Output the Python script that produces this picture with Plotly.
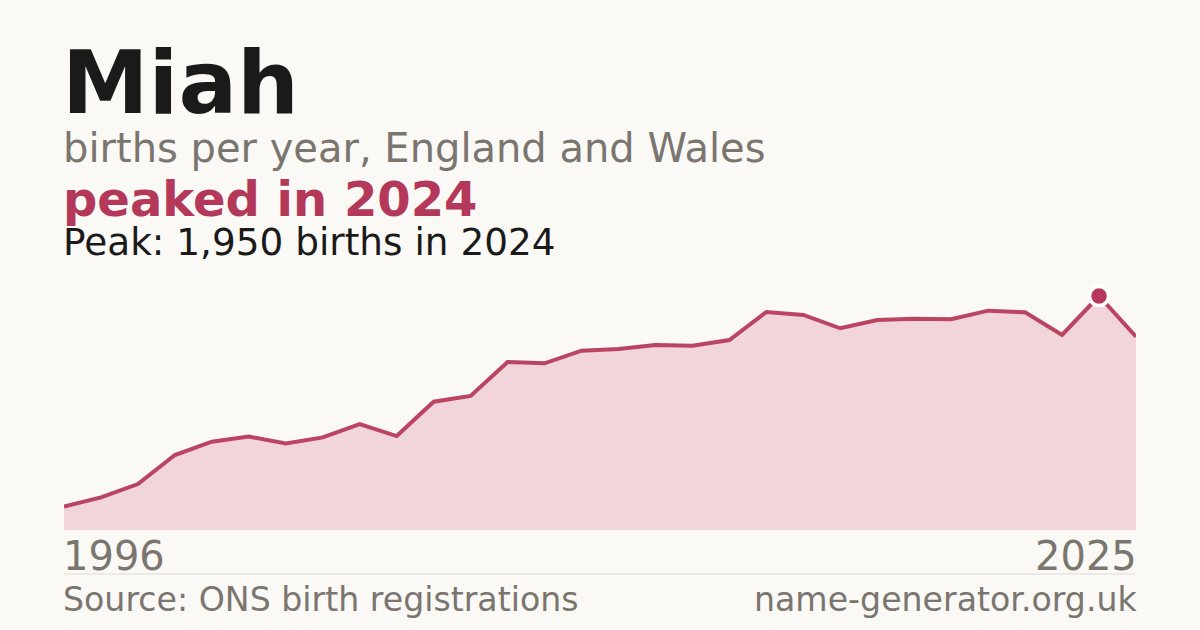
import plotly.graph_objects as go

years = list(range(1996, 2026))
births = [195, 272, 383, 625, 736, 778, 722, 772, 883, 783,
          1069, 1117, 1400, 1389, 1494, 1508, 1542, 1536, 1583, 1817,
          1792, 1681, 1750, 1761, 1756, 1828, 1814, 1625, 1950, 1611]
peak_year = 2024
peak_value = 1950

name = "Miah"
subtitle = "births per year, England and Wales"
headline = "peaked in 2024"
peak_text = "Peak: 1,950 births in 2024"
tick_left = "1996"
tick_right = "2025"
source = "Source: ONS birth registrations"
site = "name-generator.org.uk"

BG = "#faf9f5"
RED = "#b3385a"
LINE = "#ba4462"
FILL = "#f1d5db"
GREY = "#7a756e"
DARK = "#1a1a1a"
FONT = "DejaVu Sans"

W, H = 1200, 630
L, R, T, B = 64, 64, 280, 100
PH = H - T - B
PW = W - L - R


def py(p):
    return (H - B - p) / PH


def px(p):
    return (p - L) / PW


fig = go.Figure()
fig.add_trace(go.Scatter(
    x=years, y=births, mode="lines",
    line=dict(color=LINE, width=4),
    fill="tozeroy", fillcolor=FILL,
    hoverinfo="skip", showlegend=False,
))
fig.add_trace(go.Scatter(
    x=[peak_year], y=[peak_value], mode="markers",
    marker=dict(color=RED, size=19, line=dict(color="#ffffff", width=3.5)),
    hoverinfo="skip", showlegend=False,
))

ann = []


def text(t, x, y, size, color, bold=False, xanchor="left"):
    ann.append(dict(
        text=f"<b>{t}</b>" if bold else t,
        x=px(x), y=py(y), xref="paper", yref="paper",
        xanchor=xanchor, yanchor="middle", showarrow=False,
        font=dict(family=FONT, size=size, color=color),
    ))


text(name, 60, 83, 87, DARK, bold=True)
text(subtitle, 61, 147.5, 40, GREY)
text(headline, 61, 198.5, 48, RED, bold=True)
text(peak_text, 61, 242, 37.4, DARK)
text(tick_left, 61, 555.5, 40, GREY)
text(tick_right, 1139, 555.5, 40, GREY, xanchor="right")
text(source, 61, 599.5, 33.2, GREY)
text(site, 1139, 599.5, 33.2, GREY, xanchor="right")

fig.update_layout(
    width=W, height=H,
    paper_bgcolor=BG, plot_bgcolor=BG,
    margin=dict(l=L, r=R, t=T, b=B, pad=0),
    xaxis=dict(range=[years[0], years[-1]], visible=False, fixedrange=True),
    yaxis=dict(range=[0, peak_value * PH / 234], visible=False, fixedrange=True),
    annotations=ann,
    shapes=[dict(type="line", xref="paper", yref="paper",
                 x0=0, x1=1, y0=py(574), y1=py(574),
                 line=dict(color="#dedbd4", width=1))],
)

fig.write_html(
    "out.html",
    config={"displayModeBar": False},
    post_script="document.body.style.margin='0';document.body.style.padding='0';"
                "document.body.style.background='" + BG + "';",
)
